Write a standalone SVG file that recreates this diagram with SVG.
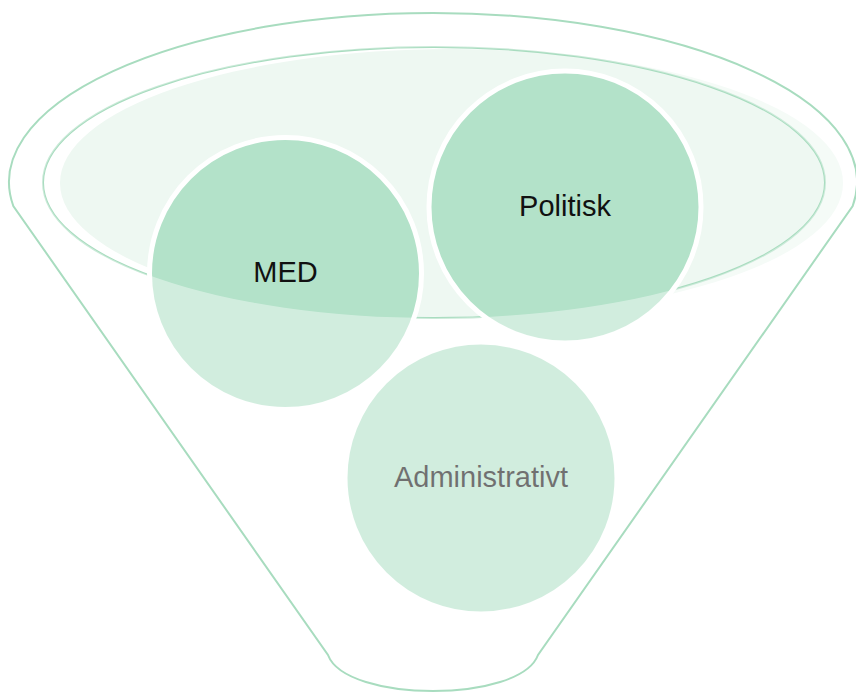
<svg xmlns="http://www.w3.org/2000/svg" width="856" height="693" viewBox="0 0 856 693">
  <style>
    .line { fill: none; stroke: #a8dcbf; stroke-width: 2; }
    .circ { fill: #b3e2c9; stroke: #ffffff; stroke-width: 5; }
    .lbl { font-family: "Liberation Sans", Arial, sans-serif; font-size: 29px; fill: #111111; text-anchor: middle; }
  </style>
  <rect width="856" height="693" fill="#ffffff"/>
  <g id="funnel">
    <ellipse cx="451.5" cy="183" rx="391.5" ry="134" fill="#eef8f2"/>
    <ellipse class="line" cx="434" cy="182.5" rx="391" ry="135.5" stroke="#9fd8b8"/>
  </g>
  <g id="node-med">
    <circle class="circ" cx="285.5" cy="273.5" r="136"/>
    <text class="lbl" x="285.5" y="282">MED</text>
  </g>
  <g id="node-politisk">
    <circle class="circ" cx="565" cy="207" r="136"/>
    <text class="lbl" x="565" y="216">Politisk</text>
  </g>
  <g id="node-administrativt">
    <circle class="circ" cx="481" cy="478" r="136"/>
    <text class="lbl" x="481" y="487">Administrativt</text>
  </g>
  <g id="funnel-body">
    <path fill="#ffffff" fill-opacity="0.4" fill-rule="evenodd" d="M13.3,206 A424,169 0 1 1 852.7,206 L538,655 C520,703 346,703 328,655 Z M43,182.5 A391,135.5 0 1 0 825,182.5 A391,135.5 0 1 0 43,182.5 Z"/>
    <path class="line" d="M13.3,206 A424,169 0 1 1 852.7,206 L538,655 C520,703 346,703 328,655 Z"/>
  </g>
</svg>
